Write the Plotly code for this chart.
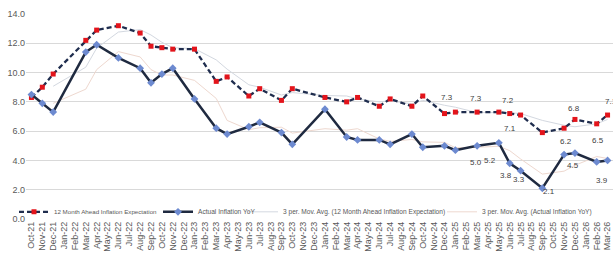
import plotly.graph_objects as go
import pandas as pd

# ---- categories (x-axis tick labels) ----
all_months = [
    "Oct-21", "Nov-21", "Dec-21",
    "Jan-22", "Feb-22", "Mar-22", "Apr-22", "May-22", "Jun-22", "Jul-22", "Aug-22", "Sep-22", "Oct-22", "Nov-22", "Dec-22",
    "Jan-23", "Feb-23", "Mar-23", "Apr-23", "May-23", "Jun-23", "Jul-23", "Aug-23", "Sep-23", "Oct-23", "Nov-23", "Dec-23",
    "Jan-24", "Feb-24", "Mar-24", "Apr-24", "May-24", "Jun-24", "Jul-24", "Aug-24", "Sep-24", "Oct-24", "Nov-24", "Dec-24",
    "Jan-25", "Feb-25", "Mar-25", "Apr-25", "May-25", "Jun-25", "Jul-25", "Aug-25", "Sep-25", "Oct-25", "Nov-25", "Dec-25",
    "Jan-26", "Feb-26", "Mar-26",
]

# ---- survey months with observations ----
survey_months = [
    "Oct-21", "Nov-21", "Dec-21", "Mar-22", "Apr-22", "Jun-22", "Aug-22", "Sep-22", "Oct-22", "Nov-22",
    "Jan-23", "Mar-23", "Apr-23", "Jun-23", "Jul-23", "Sep-23", "Oct-23", "Jan-24", "Mar-24", "Apr-24",
    "Jun-24", "Jul-24", "Sep-24", "Oct-24", "Dec-24", "Jan-25", "Mar-25", "May-25", "Jun-25", "Jul-25",
    "Sep-25", "Nov-25", "Dec-25", "Feb-26", "Mar-26",
]

expectation = [
    8.3, 9.0, 9.9, 12.2, 12.9, 13.2, 12.7, 11.8, 11.7, 11.6,
    11.6, 9.4, 9.7, 8.4, 8.9, 8.1, 8.9, 8.3, 8.0, 8.3,
    7.7, 8.2, 7.7, 8.4, 7.2, 7.3, 7.3, 7.3, 7.2, 7.1,
    5.9, 6.2, 6.8, 6.5, 7.1,
]

actual = [
    8.5, 7.9, 7.3, 11.4, 11.9, 11.0, 10.3, 9.3, 9.9, 10.3,
    8.2, 6.2, 5.8, 6.3, 6.6, 5.9, 5.1, 7.5, 5.6, 5.4,
    5.4, 5.1, 5.8, 4.9, 5.0, 4.7, 5.0, 5.2, 3.8, 3.3,
    2.1, 4.4, 4.5, 3.9, 4.0,
]

y_ticks = [0, 2, 4, 6, 8, 10, 12, 14]

# months that carry data labels
exp_labels = ["Jan-25", "Mar-25", "Jun-25", "Jul-25", "Nov-25", "Dec-25", "Feb-26", "Mar-26"]
act_labels = ["Mar-25", "May-25", "Jun-25", "Jul-25", "Sep-25", "Dec-25", "Feb-26"]

# label offsets (px) -- styling only
exp_label_shift = {"Jan-25": (-8, 15), "Mar-25": (-1, 14), "Jun-25": (-2, 13), "Jul-25": (-11, -13),
                   "Nov-25": (2, -13), "Dec-25": (-1, 11), "Feb-26": (1, -17), "Mar-26": (3, 14)}
act_label_shift = {"Mar-25": (-1, -17), "May-25": (-9, -18), "Jun-25": (-4, -12), "Jul-25": (-2, -9),
                   "Sep-25": (7, -3), "Dec-25": (-2, -12), "Feb-26": (5, -19)}

# 3-period moving average trendlines (as in the source chart)
ma_exp = pd.Series(expectation).rolling(3).mean().tolist()[2:]
ma_act = pd.Series(actual).rolling(3).mean().tolist()[2:]

FONT = "Liberation Sans Narrow, Arial Narrow, Liberation Sans, Arial, sans-serif"
TXT = "#595959"

fig = go.Figure()

fig.add_trace(go.Scatter(
    x=survey_months[2:], y=ma_exp, mode="lines",
    line=dict(color="#d3d8e0", width=1),
    name="3 per. Mov. Avg. (12 Month Ahead Inflation Expectation)", legend="legend3",
))
fig.add_trace(go.Scatter(
    x=survey_months[2:], y=ma_act, mode="lines",
    line=dict(color="#eed8cf", width=1),
    name="3 per. Mov. Avg. (Actual Inflation YoY)", legend="legend4",
))
fig.add_trace(go.Scatter(
    x=survey_months, y=expectation, mode="lines+markers",
    line=dict(color="#1f2d4e", width=2.3, dash="5px,3px"),
    marker=dict(symbol="square", size=5, color="#e3141b"),
    name="12 Month Ahead Inflation Expectation", legend="legend",
))
fig.add_trace(go.Scatter(
    x=survey_months, y=actual, mode="lines+markers",
    line=dict(color="#1f2a40", width=2.5),
    marker=dict(symbol="diamond", size=6, color="#6d8ad0"),
    name="Actual Inflation YoY", legend="legend2",
))

annotations = []
for m in exp_labels:
    v = expectation[survey_months.index(m)]
    dx, dy = exp_label_shift[m]
    annotations.append(dict(x=m, y=v, text=f"{v:.1f}", showarrow=False, xshift=dx, yshift=dy,
                            font=dict(family=FONT, size=8, color="#404040")))
for m in act_labels:
    v = actual[survey_months.index(m)]
    dx, dy = act_label_shift[m]
    annotations.append(dict(x=m, y=v, text=f"{v:.1f}", showarrow=False, xshift=dx, yshift=dy,
                            font=dict(family=FONT, size=8, color="#404040")))

def leg(text_start_px, size=6.6):
    left = text_start_px - 46
    return dict(orientation="h", x=(left - 26) / 587, y=0.035, xanchor="left", yanchor="middle",
                font=dict(family=FONT, size=size, color=TXT), bgcolor="rgba(0,0,0,0)",
                itemwidth=30, tracegroupgap=0)

fig.update_layout(
    width=613, height=263,
    margin=dict(l=26, r=0, t=14, b=44),
    paper_bgcolor="white", plot_bgcolor="white",
    font=dict(family=FONT, color=TXT),
    showlegend=True,
    legend=leg(60, 6.2), legend2=leg(204), legend3=leg(289), legend4=leg(488),
    annotations=annotations,
    xaxis=dict(
        type="category", categoryorder="array", categoryarray=all_months,
        tickmode="array", tickvals=all_months, ticktext=all_months,
        range=[-0.5, len(all_months) - 0.5], automargin=False,
        tickangle=-90, tickfont=dict(family=FONT, size=9, color=TXT),
        showgrid=False, showline=False, ticks="", zeroline=False,
    ),
    yaxis=dict(
        range=[0, 14], tickvals=y_ticks, tickformat=".1f", automargin=False,
        tickfont=dict(family=FONT, size=9, color=TXT),
        showgrid=True, gridcolor="#d9d9d9", gridwidth=1,
        zeroline=False, showline=False, ticks="",
    ),
)

fig.write_html("out.html", config={"displayModeBar": False},
               post_script="document.body.style.margin='0';document.body.style.padding='0';")
